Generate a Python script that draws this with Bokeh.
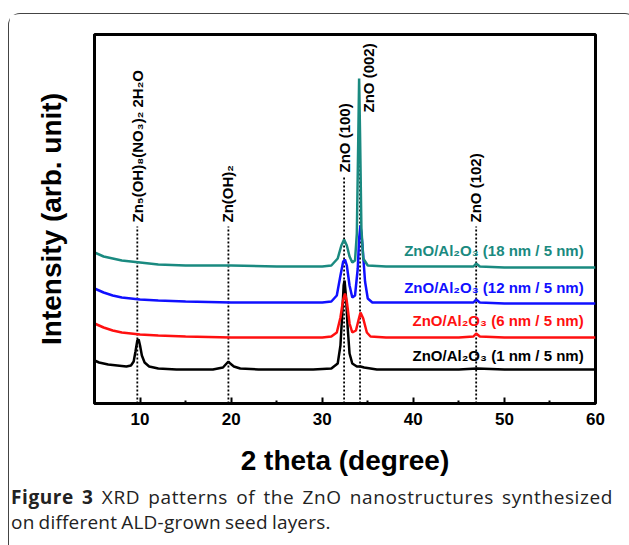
import math
from bokeh.plotting import figure
from bokeh.layouts import column
from bokeh.models import Range1d, FixedTicker, Label, Div
from bokeh.embed import file_html
from bokeh.resources import INLINE

# ---- data (intensities in arbitrary units, stacked) ----
x_1nm = [5.0, 5.5, 6.5, 7.5, 8.5, 9.0, 9.3, 9.5, 9.7, 9.85, 10.0, 10.2, 10.5, 11.0, 12.0, 14.0, 16.0, 18.0,
         19.1, 19.5, 19.7, 19.9, 20.3, 21.0, 23.0, 26.0, 29.0, 31.0, 31.7, 32.0, 32.2, 32.35, 32.45,
         32.6, 32.8, 33.0, 33.3, 33.8, 34.2, 34.6, 36.0, 40.0, 45.0, 47.0, 50.0, 55.0, 60.0]
y_1nm = [43, 41, 39, 38, 37, 38, 42, 52, 63, 64, 58, 48, 41, 37, 35, 34, 34, 34,
         36, 40, 42, 40, 37, 35, 34, 34, 34, 35, 40, 58, 90, 118, 123,
         108, 75, 50, 40, 37, 37, 36, 34, 34, 34, 35, 34, 34, 34]

x_6nm = [5.0, 6.0, 7.0, 8.0, 10.0, 12.0, 15.0, 20.0, 25.0, 30.0, 31.0, 31.6, 32.0, 32.3, 32.5,
         32.7, 33.0, 33.3, 33.7, 34.0, 34.2, 34.5, 34.9, 35.3, 37.0, 40.0, 45.0, 46.6, 46.9,
         47.3, 50.0, 55.0, 60.0]
y_6nm = [80, 76, 73, 71, 69, 68, 67, 66, 66, 66, 67, 71, 86, 104, 110,
         102, 80, 71, 73, 84, 91, 85, 71, 67, 66, 66, 66, 67, 70,
         67, 66, 66, 66]

x_12nm = [5.0, 6.0, 7.0, 8.0, 10.0, 12.0, 15.0, 20.0, 25.0, 30.0, 31.0, 31.6, 32.0, 32.3, 32.5,
          32.7, 33.0, 33.3, 33.6, 33.9, 34.05, 34.2, 34.4, 34.7, 35.0, 35.5, 40.0, 46.6, 46.9,
          47.3, 50.0, 55.0, 60.0]
y_12nm = [115, 111, 108, 106, 104, 103, 102, 101, 101, 101, 102, 108, 128, 142, 144,
          138, 118, 106, 108, 135, 165, 178, 160, 122, 105, 101, 101, 101, 104,
          101, 100, 100, 100]

x_18nm = [5.0, 6.0, 7.0, 8.0, 10.0, 12.0, 15.0, 20.0, 25.0, 30.0, 31.0, 31.7, 32.1, 32.4, 32.7,
          33.0, 33.3, 33.6, 33.8, 33.95, 34.05, 34.15, 34.3, 34.5, 35.0, 37.0, 40.0, 46.6, 46.9,
          47.3, 50.0, 55.0, 60.0]
y_18nm = [151, 147, 145, 143, 141, 139, 138, 138, 137, 137, 138, 145, 158, 164, 158,
          147, 141, 143, 170, 260, 325, 270, 175, 145, 138, 137, 137, 137, 140,
          137, 136, 136, 136]

series_x = [x_1nm, x_6nm, x_12nm, x_18nm]
series_y = [y_1nm, y_6nm, y_12nm, y_18nm]
series_names = ["ZnO/Al\u2082O\u2083 (1 nm / 5 nm)", "ZnO/Al\u2082O\u2083 (6 nm / 5 nm)",
                "ZnO/Al\u2082O\u2083 (12 nm / 5 nm)", "ZnO/Al\u2082O\u2083 (18 nm / 5 nm)"]
series_colors = ["#000000", "#ff1010", "#1010ff", "#1a8a80"]
series_label_y = [48, 83, 116, 153]

peak_pos = [9.7, 19.7, 32.4, 34.15, 46.9]
peak_names = ["Zn\u2085(OH)\u2088(NO\u2083)\u2082 2H\u2082O", "Zn(OH)\u2082", "ZnO (100)", "ZnO (002)", "ZnO (102)"]
peak_line_top = [177, 177, 226, 288, 177]
peak_label_x = [9.7, 19.6, 32.4, 35.13, 46.8]
peak_label_y = [181, 181, 231, 291, 181]

x_ticks = [10, 20, 30, 40, 50, 60]
x_minor = [5, 15, 25, 35, 45, 55]

caption_bold = "Figure 3"
caption_line1 = "XRD patterns of the ZnO nanostructures synthesized"
caption_line2 = "on different ALD-grown seed layers."
caption_html = ("<div style=\"font-family:'Open Sans',sans-serif;font-size:19px;line-height:25px;"
                "color:#222;letter-spacing:0.2px;word-spacing:-1px;margin-left:-3px\">"
                "<div style=\"width:602px;text-align:justify;text-align-last:justify;"
                "white-space:nowrap;letter-spacing:0.6px\">"
                f"<b>{caption_bold}</b> {caption_line1}</div>"
                f"<div style=\"white-space:nowrap\">{caption_line2}</div></div>")

FONT = "Liberation Sans"

p = figure(width=617, height=466, x_range=Range1d(5, 60), y_range=Range1d(0, 369),
           output_backend="svg", toolbar_location=None,
           min_border_left=85, min_border_right=31, min_border_top=20, min_border_bottom=77)
p.grid.visible = False
p.outline_line_color = "black"
p.outline_line_width = 3

p.xaxis.ticker = FixedTicker(ticks=x_ticks, minor_ticks=x_minor)
p.xaxis.major_tick_in = 6
p.xaxis.major_tick_out = 0
p.xaxis.minor_tick_in = 3
p.xaxis.minor_tick_out = 0
p.xaxis.major_tick_line_width = 2
p.xaxis.minor_tick_line_width = 2
p.xaxis.axis_line_width = 3
p.xaxis.major_label_text_font = FONT
p.xaxis.major_label_text_font_style = "bold"
p.xaxis.major_label_text_font_size = "17px"
p.xaxis.major_label_text_color = "black"
p.xaxis.major_label_standoff = 9
p.xaxis.axis_label = "2 theta (degree)"
p.xaxis.axis_label_text_font = FONT
p.xaxis.axis_label_text_font_style = "bold"
p.xaxis.axis_label_text_font_size = "28px"
p.xaxis.axis_label_text_color = "black"
p.xaxis.axis_label_standoff = 17

p.yaxis.ticker = FixedTicker(ticks=[])
p.yaxis.major_tick_line_color = None
p.yaxis.minor_tick_line_color = None
p.yaxis.axis_line_width = 3
p.yaxis.axis_label = "Intensity (arb. unit)"
p.yaxis.axis_label_text_font = FONT
p.yaxis.axis_label_text_font_style = "bold"
p.yaxis.axis_label_text_font_size = "28px"
p.yaxis.axis_label_text_color = "black"
p.yaxis.axis_label_standoff = 28

# dotted reference lines
p.segment(x0=peak_pos, y0=[0] * len(peak_pos), x1=peak_pos, y1=peak_line_top,
          line_color="black", line_width=1.8, line_dash="2 2")

for xs, ys, c in zip(series_x, series_y, series_colors):
    p.line(xs, ys, line_color=c, line_width=2.5)

for name, lx, ly in zip(peak_names, peak_label_x, peak_label_y):
    p.add_layout(Label(x=lx, y=ly, text=name, angle=math.pi / 2, text_align="left",
                       text_baseline="middle", text_font=FONT, text_font_style="bold",
                       text_font_size="15px", text_color="black"))

for name, c, ly in zip(series_names, series_colors, series_label_y):
    p.add_layout(Label(x=58.7, y=ly, text=name, text_align="right", text_baseline="middle",
                       text_font=FONT, text_font_style="bold", text_font_size="15px",
                       text_color=c))

cap = Div(text=caption_html, width=617, height=58)

layout = column(p, cap, spacing=0, margin=(13, 0, 0, 8),
                styles={"border-top": "1.5px solid #444", "border-left": "1.5px solid #444",
                        "border-right": "1.5px solid #444", "border-top-left-radius": "12px",
                        "border-top-right-radius": "12px"})

open("out.html", "w").write(file_html(layout, INLINE))
